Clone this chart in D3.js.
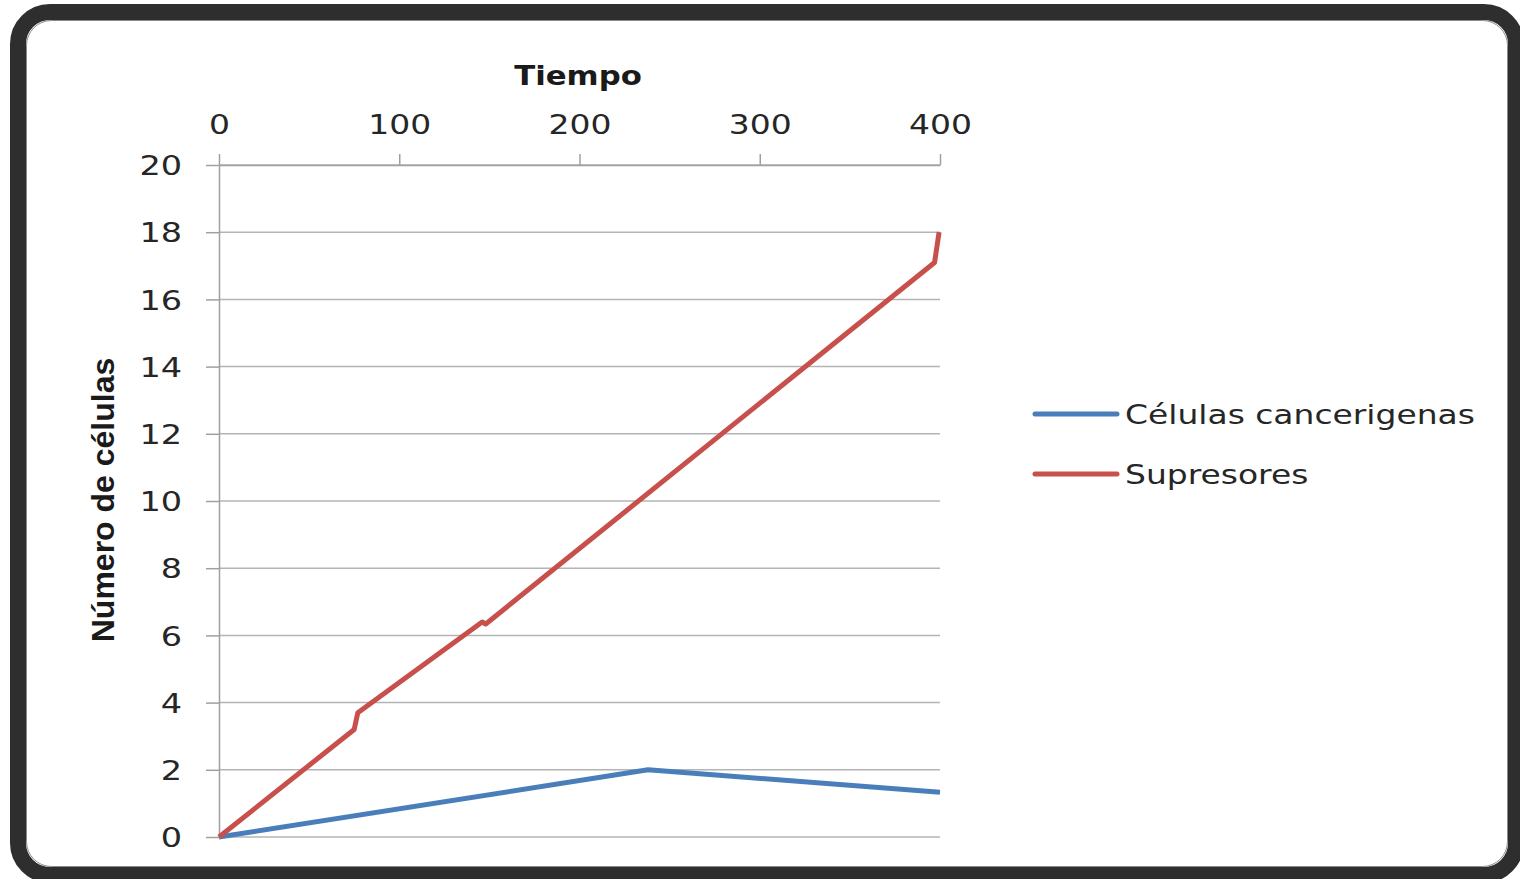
<!DOCTYPE html>
<html>
<head>
<meta charset="utf-8">
<script src="https://cdnjs.cloudflare.com/ajax/libs/d3/7.8.5/d3.min.js"></script>
<style>
  html, body { margin: 0; padding: 0; background: #ffffff; }
  svg { display: block; }
  .axis text { font-family: "DejaVu Sans", sans-serif; font-size: 27px; fill: #262626; }
  .axis path, .axis line { stroke: #a0a0a0; stroke-width: 1.5; }
</style>
</head>
<body>
<div id="container"></div>
<script>
var WIDTH = 1520,
	HEIGHT = 879;

// data
var xTicks = [0, 100, 200, 300, 400];
var yTicks = [0, 2, 4, 6, 8, 10, 12, 14, 16, 18, 20];
var seriesNames = ['Células cancerigenas', 'Supresores'];
var seriesColors = ['#4a7ebb', '#c8504c'];
var cancerX = [0, 238, 400];
var cancerY = [0, 2.0, 1.33];
var supresX = [0, 75, 77, 146, 148, 397, 399.5];
var supresY = [0, 3.2, 3.7, 6.4, 6.34, 17.1, 18.0];

var xScale = d3.scaleLinear().domain([0, 400]).range([219, 940]);
var yScale = d3.scaleLinear().domain([0, 20]).range([837, 165]);

var translate = function (x, y) {
	return "translate(" + x + "," + y + ")";
};

function zip(xs, ys) {
	return xs.map(function (x, i) { return {x: x, y: ys[i]}; });
}

// the original text is drawn wider than normal, so stretch it
function stretch(sel, k) {
	sel.each(function () {
		var w = this.getComputedTextLength();
		d3.select(this)
			.attr('textLength', w * k)
			.attr('lengthAdjust', 'spacingAndGlyphs');
	});
}

var svg = d3.select('#container')
	.append('svg')
	.attr('width', WIDTH)
	.attr('height', HEIGHT);

// dark rounded frame
svg.append('rect')
	.attr('x', 18).attr('y', 12)
	.attr('width', 1498).attr('height', 863)
	.attr('rx', 32).attr('ry', 32)
	.attr('fill', '#ffffff')
	.attr('stroke', '#2e2e2e')
	.attr('stroke-width', 16);
svg.append('rect')
	.attr('x', 26.5).attr('y', 20.5)
	.attr('width', 1481).attr('height', 846)
	.attr('rx', 25).attr('ry', 25)
	.attr('fill', 'none')
	.attr('stroke', '#8a8a8a')
	.attr('stroke-width', 1);

// horizontal gridlines
svg.append('g').selectAll('line').data(yTicks).enter()
	.append('line')
	.attr('x1', xScale(0)).attr('x2', xScale(400))
	.attr('y1', function (d) { return yScale(d); })
	.attr('y2', function (d) { return yScale(d); })
	.attr('stroke', '#b4b4b4')
	.attr('stroke-width', 1.5);

// axes
var xAxis = d3.axisTop(xScale).tickValues(xTicks).tickSize(11).tickPadding(20).tickSizeOuter(0);
svg.append('g')
	.classed('axis', true)
	.attr('transform', translate(0, yScale(20)))
	.call(xAxis)
	.selectAll('text').call(stretch, 1.22);

var yAxis = d3.axisLeft(yScale).tickValues(yTicks).tickSize(13).tickPadding(24).tickSizeOuter(0);
svg.append('g')
	.classed('axis', true)
	.attr('transform', translate(xScale(0), 0))
	.call(yAxis)
	.selectAll('text').attr('dy', '0.36em').call(stretch, 1.24);

// axis titles
svg.append('text')
	.attr('x', 578).attr('y', 85)
	.attr('text-anchor', 'middle')
	.style('font-family', '"DejaVu Sans", sans-serif')
	.style('font-weight', 'bold')
	.style('font-size', '27px')
	.attr('fill', '#1a1a1a')
	.text('Tiempo')
	.call(stretch, 1.14);

svg.append('text')
	.attr('transform', translate(114, 500) + ' rotate(-90)')
	.attr('text-anchor', 'middle')
	.style('font-family', '"Liberation Sans", sans-serif')
	.style('font-weight', 'bold')
	.style('font-size', '32px')
	.attr('fill', '#1a1a1a')
	.text('Número de células');

// series lines
var lineFunction = d3.line()
	.x(function (d) { return xScale(d.x); })
	.y(function (d) { return yScale(d.y); });

var series = [zip(cancerX, cancerY), zip(supresX, supresY)];
series.forEach(function (s, i) {
	svg.append('path')
		.attr('d', lineFunction(s))
		.attr('fill', 'none')
		.attr('stroke', seriesColors[i])
		.attr('stroke-width', 5)
		.attr('stroke-linejoin', 'round');
});

// legend
var legend = svg.append('g').attr('transform', translate(1035, 414));
seriesNames.forEach(function (name, i) {
	var g = legend.append('g').attr('transform', translate(0, i * 60));
	g.append('line')
		.attr('x1', 0).attr('x2', 82)
		.attr('stroke', seriesColors[i])
		.attr('stroke-width', 5)
		.attr('stroke-linecap', 'round');
	g.append('text')
		.attr('x', 90).attr('dy', '0.36em')
		.style('font-family', '"DejaVu Sans", sans-serif')
		.style('font-size', '27px')
		.attr('fill', '#262626')
		.text(name)
		.call(stretch, 1.22);
});
</script>
</body>
</html>
